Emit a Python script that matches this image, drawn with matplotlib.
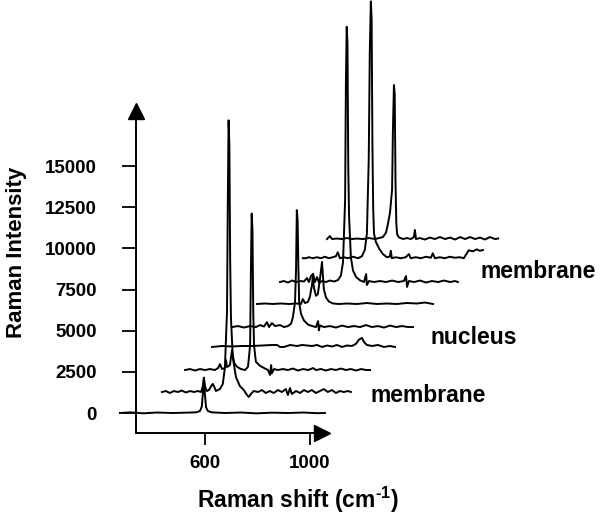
import matplotlib
matplotlib.use("Agg")
import matplotlib.pyplot as plt

# waterfall of 9 Raman spectra (local shift, counts), each offset in x and y
t1_shift = [400, 440, 490, 540, 600, 650, 690, 705, 712, 716, 720, 724, 728, 735, 750, 800, 860, 920, 980, 1040, 1100, 1150, 1181]
t1_counts = [0, 40, -20, 30, 0, 20, 40, 120, 400, 1200, 2150, 1100, 350, 120, 40, 0, 30, -20, 20, 0, 30, -10, 0]

t2_shift = [400, 415, 430, 446, 461, 476, 491, 507, 522, 537, 549, 556, 560, 564, 571, 579, 590, 594, 598, 606,
            613, 621, 632, 640, 648, 651, 654, 657, 660, 663, 670, 682, 697, 712, 724, 731, 739, 750, 766, 781, 796,
            811, 826, 842, 857, 872, 880, 888, 895, 911, 926, 941, 956, 971, 987, 1002, 1017, 1032, 1048, 1063,
            1078, 1093, 1109, 1120]
t2_counts = [0, 60, -60, 60, 0, 90, -30, 60, 0, 60, 0, 360, 850, 360, 60, 120, 420, 490, 360, 60,
             120, 180, 490, 1500, 4900, 11500, 16500, 15000, 8000, 4500, 2100, 910, 360, 120, -180, -300, -120, 60, 0, 120, -60,
             60, -60, 120, 0, 180, -180, 240, -120, 60, -60, 120, 0, 120, -60, 60, 180, 0, 120, -60,
             60, 0, 60, 0]

t3_shift = [400, 419, 438, 457, 476, 495, 514, 526, 533, 541, 552, 556, 560, 571, 579, 587, 598, 613, 629, 640,
            648, 651, 654, 657, 660, 663, 670, 686, 705, 716, 724, 728, 731, 739, 754, 773, 792, 811, 830, 850, 869,
            888, 899, 918, 937, 956, 975, 994, 1013, 1032, 1052, 1071, 1090, 1105]
t3_counts = [0, 60, -30, 60, 0, 60, 0, 120, 360, 60, 120, 600, 180, 300, 1200, 450, 200, 60, 0, 200,
             1500, 6000, 9500, 8500, 3500, 1500, 500, 250, 90, 0, -300, 300, -200, 60, 0, 60, 0, 90, -30, 60, 0,
             120, 0, 60, -30, 60, 0, 90, 0, 60, -30, 60, 0, 0]

t4_shift = [400, 438, 476, 514, 552, 591, 629, 648, 659, 674, 697, 724, 743, 781, 800, 819, 838, 857, 876, 895,
            914, 933, 949, 960, 971, 979, 990, 1010, 1032, 1055, 1078, 1097]
t4_counts = [0, 60, 30, 60, 60, 90, 120, 120, 0, 0, 120, 60, 120, 60, 120, 0, 90, 30, 120, 0,
             90, 60, 200, 450, 550, 300, 120, 60, 120, 0, 60, 0]

t5_shift = [400, 423, 446, 469, 491, 507, 522, 533, 541, 552, 564, 583, 598, 613, 625, 632, 640, 644, 647, 650,
            653, 656, 663, 674, 690, 705, 720, 728, 731, 735, 750, 773, 796, 819, 842, 865, 888, 911, 933, 956, 979,
            1002, 1025, 1048, 1071, 1090]
t5_counts = [0, 60, -30, 60, 0, 120, 30, 300, 0, 240, 60, 120, 0, 60, 200, 600, 1500, 3500, 7100, 6500,
             3500, 1500, 800, 400, 150, 60, 0, 360, -200, 100, 0, 60, -30, 90, 0, 60, 0, 120, 0, 60, -30,
             90, 0, 60, 0, 0]

t6_shift = [400, 430, 461, 491, 522, 552, 568, 575, 583, 594, 602, 610, 613, 617, 625, 632, 640, 648, 651, 655,
            663, 674, 690, 712, 743, 781, 819, 857, 895, 933, 971, 1010, 1040, 1071]
t6_counts = [0, 30, 0, 30, 0, 30, 0, 300, 60, 120, 450, 1200, 1650, 1000, 500, 600, 1500, 2550, 1800, 900,
             400, 150, 30, 0, 30, 0, 60, 0, 30, 0, 60, 30, 90, 0]

t7_shift = [400, 415, 430, 446, 461, 476, 491, 503, 510, 518, 526, 533, 541, 549, 560, 575, 590, 606, 621, 632,
            640, 648, 651, 654, 657, 660, 663, 670, 678, 690, 705, 720, 728, 731, 739, 758, 781, 804, 827, 850, 872,
            880, 884, 891, 911, 933, 956, 979, 1002, 1025, 1048, 1067, 1078]
t7_counts = [0, 60, -30, 90, 0, 60, 30, 240, 0, 360, 500, 0, 300, -60, 60, 0, 90, 30, 120, 400,
             1200, 5000, 12000, 15500, 14500, 7000, 4000, 1500, 700, 300, 100, 0, 480, -180, 60, 0, 60, 0, 90, 0, 60,
             360, -300, 60, 0, 90, -30, 60, 0, 90, 0, 60, 0]

t8_shift = [400, 411, 423, 438, 453, 469, 484, 499, 514, 526, 533, 541, 556, 571, 590, 610, 625, 636, 644, 651,
            655, 659, 662, 665, 668, 671, 678, 690, 705, 720, 731, 735, 739, 754, 773, 792, 804, 811, 830, 850, 869,
            888, 895, 903, 922, 941, 960, 979, 998, 1013, 1025, 1032, 1048, 1063, 1074, 1086]
t8_counts = [0, 0, 60, 0, 60, 0, 90, 0, 60, 120, 360, 0, 60, 0, 90, 0, 120, 500, 1500, 6000,
             12500, 15600, 14500, 7000, 3000, 1500, 1000, 600, 250, 60, 100, 450, 0, 60, 0, 60, 250, 0, 60, 0, 90,
             30, 300, 0, 60, 0, 90, 30, 60, 0, 300, 480, 420, 540, 450, 500]

t9_shift = [400, 411, 419, 438, 457, 476, 495, 514, 537, 560, 583, 598, 613, 625, 632, 640, 648, 651, 655, 658,
            661, 664, 667, 674, 690, 705, 720, 731, 735, 739, 754, 773, 792, 811, 830, 850, 869, 888, 907, 926, 945,
            964, 983, 1002, 1021, 1040, 1052]
t9_counts = [0, 180, 0, 30, 0, 60, 0, 30, 0, 60, 0, 60, 120, 400, 900, 1600, 3000, 6500, 9350, 8800,
             3500, 1000, 300, 100, 0, 60, 0, 120, 550, 0, 60, -30, 90, 0, 120, 0, 90, -30, 120, 0, 120,
             0, 90, -30, 120, 0, 30]

x_offsets = [-124, 36, 124, 227, 303, 398, 486, 573, 665]
y_offsets = [0, 1275, 2610, 4010, 5220, 6620, 7955, 9400, 10565]

labels = ["membrane", "nucleus", "membrane"]
y_ticks = [0, 2500, 5000, 7500, 10000, 12500, 15000]
x_ticks = [600, 1000]


def main():
    plt.rcParams['font.family'] = ['Liberation Sans', 'DejaVu Sans']
    plt.rcParams['font.weight'] = 'bold'
    plt.rcParams['mathtext.fontset'] = 'custom'
    plt.rcParams['mathtext.rm'] = 'Liberation Sans:bold'
    plt.rcParams['mathtext.bf'] = 'Liberation Sans:bold'

    fig = plt.figure(figsize=(6.01, 5.15), dpi=100)
    ax = fig.add_axes([0, 0, 1, 1])
    ax.set_xlim(-181, 2109)
    ax.set_ylim(-6194, 25081)

    spectra = [(t1_shift, t1_counts), (t2_shift, t2_counts), (t3_shift, t3_counts),
               (t4_shift, t4_counts), (t5_shift, t5_counts), (t6_shift, t6_counts),
               (t7_shift, t7_counts), (t8_shift, t8_counts), (t9_shift, t9_counts)]
    for (s, c), dx, dy in zip(spectra, x_offsets, y_offsets):
        ax.plot([v + dx for v in s], [v + dy for v in c], color='black', lw=1.4)

    # axes with arrow heads
    x0, y0 = 337, -1215
    ax.spines['top'].set_visible(False)
    ax.spines['right'].set_visible(False)
    ax.spines['left'].set_position(('data', x0))
    ax.spines['bottom'].set_position(('data', y0))
    ax.spines['left'].set_bounds(y0, 18300)
    ax.spines['bottom'].set_bounds(x0, 1040)
    for sp in ['left', 'bottom']:
        ax.spines[sp].set_linewidth(1.4)
    ax.plot([x0], [18365], marker='^', ms=11, color='black', clip_on=False)
    ax.plot([1047], [y0], marker='>', ms=11, color='black', clip_on=False)

    ax.set_yticks(y_ticks)
    ax.set_xticks(x_ticks)
    ax.tick_params(axis='y', direction='out', length=10, width=1.3, pad=18, labelsize=13.5)
    ax.tick_params(axis='x', direction='out', length=8.5, width=1.3, pad=7, labelsize=13.5)

    fig.text(298 / 601, 1 - 500 / 515, "Raman shift (cm$^{\u2010 1}$)", ha='center', va='center', fontsize=16.5)
    fig.text(17 / 601, 1 - 252 / 515, "Raman Intensity", rotation=90, ha='center', va='center', fontsize=16)

    for lab, (px, py) in zip(labels, [(370, 395), (430, 337), (481, 271)]):
        fig.text(px / 601, 1 - py / 515, lab, ha='left', va='center', fontsize=16.5)

    fig.savefig("out.png", dpi=100)
    plt.close(fig)


if __name__ == '__main__':
    main()
